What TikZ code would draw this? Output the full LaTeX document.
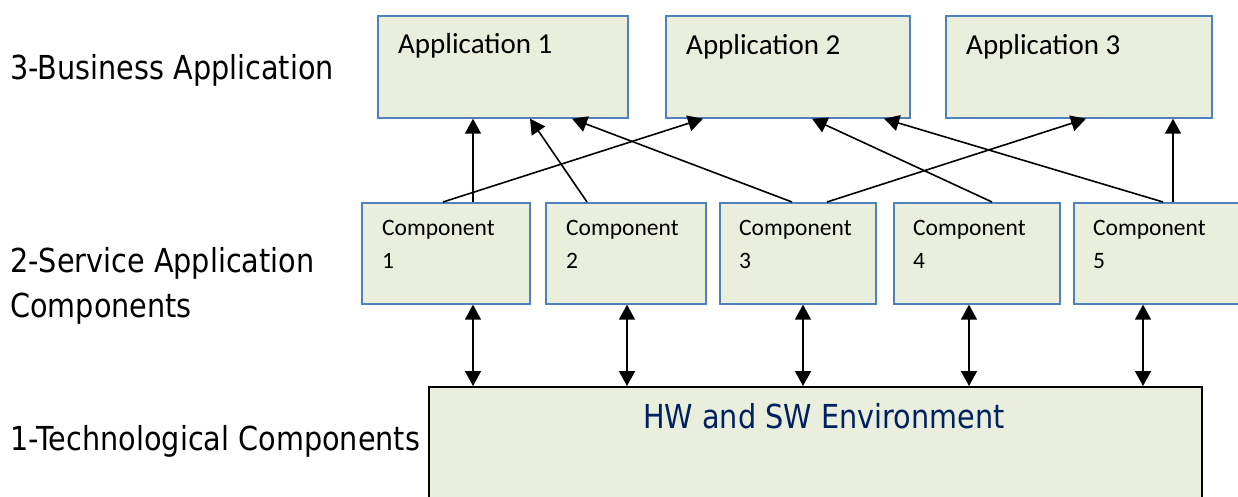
\documentclass[tikz,border=0pt]{standalone}
\usepackage{fontspec}
\setmainfont{Carlito}
\newfontfamily\tahoma{DejaVu Sans}[FakeStretch=0.87]
\usetikzlibrary{arrows.meta}
\definecolor{boxfill}{RGB}{233,239,220}
\definecolor{boxline}{RGB}{79,129,189}
\definecolor{hwtext}{RGB}{0,32,96}
\tikzset{
  x=1pt, y=-1pt,
  bluebox/.style={draw=boxline, line width=1.7pt, fill=boxfill, anchor=north west, inner sep=0pt},
  blackbox/.style={draw=black, line width=1.5pt, fill=boxfill, anchor=north west, inner sep=0pt},
  apptext/.style={anchor=base west, inner sep=0pt, font=\fontsize{29}{35}\selectfont},
  comptext/.style={anchor=base west, inner sep=0pt, font=\fontsize{23.5}{33}\selectfont},
  layertext/.style={anchor=base west, inner sep=0pt, font=\tahoma\fontsize{33}{40}\selectfont},
  arr/.style={line width=1.6pt, -{Triangle[length=15pt,width=16pt]}},
  darr/.style={line width=1.6pt, {Triangle[length=15pt,width=16pt]}-{Triangle[length=15pt,width=16pt]}},
}
\begin{document}
\begin{tikzpicture}
\clip (0,0) rectangle (1238,497);
\fill[white] (0,0) rectangle (1238,497);

% layer labels
\node[layertext] (l3) at (10,80) {3-Business Application};
\node[layertext] (l2a) at (10,272) {2-Service Application};
\node[layertext] (l2b) at (10,317) {Components};
\node[layertext] (l1) at (10,450) {1-Technological Components};

% applications
\node[bluebox, minimum width=250pt, minimum height=102pt] (a1) at (377,15) {};
\node[bluebox, minimum width=244pt, minimum height=102pt] (a2) at (665,15) {};
\node[bluebox, minimum width=266pt, minimum height=102pt] (a3) at (945,15) {};
\node[apptext] (a1t) at (398,54) {Application 1};
\node[apptext] (a2t) at (686,55) {Application 2};
\node[apptext] (a3t) at (966,55) {Application 3};

% components
\node[bluebox, minimum width=168pt, minimum height=101pt] (c1) at (361,202) {};
\node[bluebox, minimum width=160pt, minimum height=101pt] (c2) at (545,202) {};
\node[bluebox, minimum width=156pt, minimum height=101pt] (c3) at (719,202) {};
\node[bluebox, minimum width=166pt, minimum height=101pt] (c4) at (893,202) {};
\node[bluebox, minimum width=200pt, minimum height=101pt] (c5) at (1073,202) {};
\node[comptext] (c1t) at (382,235) {Component};
\node[comptext] (c1n) at (382,268) {1};
\node[comptext] (c2t) at (566,235) {Component};
\node[comptext] (c2n) at (566,268) {2};
\node[comptext] (c3t) at (739,235) {Component};
\node[comptext] (c3n) at (739,268) {3};
\node[comptext] (c4t) at (913,235) {Component};
\node[comptext] (c4n) at (913,268) {4};
\node[comptext] (c5t) at (1093,235) {Component};
\node[comptext] (c5n) at (1093,268) {5};

% environment
\node[blackbox, minimum width=773pt, minimum height=130pt] (hw) at (428,386) {};
\node[anchor=base west, inner sep=0pt, text=hwtext, font=\tahoma\fontsize{33}{40}\selectfont] (hwt) at (643,428) {HW and SW Environment};

% upward arrows
\draw[arr] ([xshift=112pt]c1.north west) -- ([xshift=96pt]a1.south west);
\draw[arr] ([xshift=82pt]c1.north west) -- ([xshift=38pt]a2.south west);
\draw[arr] ([xshift=42pt]c2.north west) -- ([xshift=153pt]a1.south west);
\draw[arr] ([xshift=73pt]c3.north west) -- ([xshift=195pt]a1.south west);
\draw[arr] ([xshift=108pt]c3.north west) -- ([xshift=141pt]a3.south west);
\draw[arr] ([xshift=99pt]c4.north west) -- ([xshift=147pt]a2.south west);
\draw[arr] ([xshift=90pt]c5.north west) -- ([xshift=219pt]a2.south west);
\draw[arr] ([xshift=100pt]c5.north west) -- ([xshift=228pt]a3.south west);

% double arrows
\draw[darr] ([xshift=112pt]c1.south west) -- ([xshift=45pt]hw.north west);
\draw[darr] ([xshift=82pt]c2.south west) -- ([xshift=199pt]hw.north west);
\draw[darr] ([xshift=84pt]c3.south west) -- ([xshift=375pt]hw.north west);
\draw[darr] ([xshift=76pt]c4.south west) -- ([xshift=541pt]hw.north west);
\draw[darr] ([xshift=70pt]c5.south west) -- ([xshift=715pt]hw.north west);
\end{tikzpicture}
\end{document}
